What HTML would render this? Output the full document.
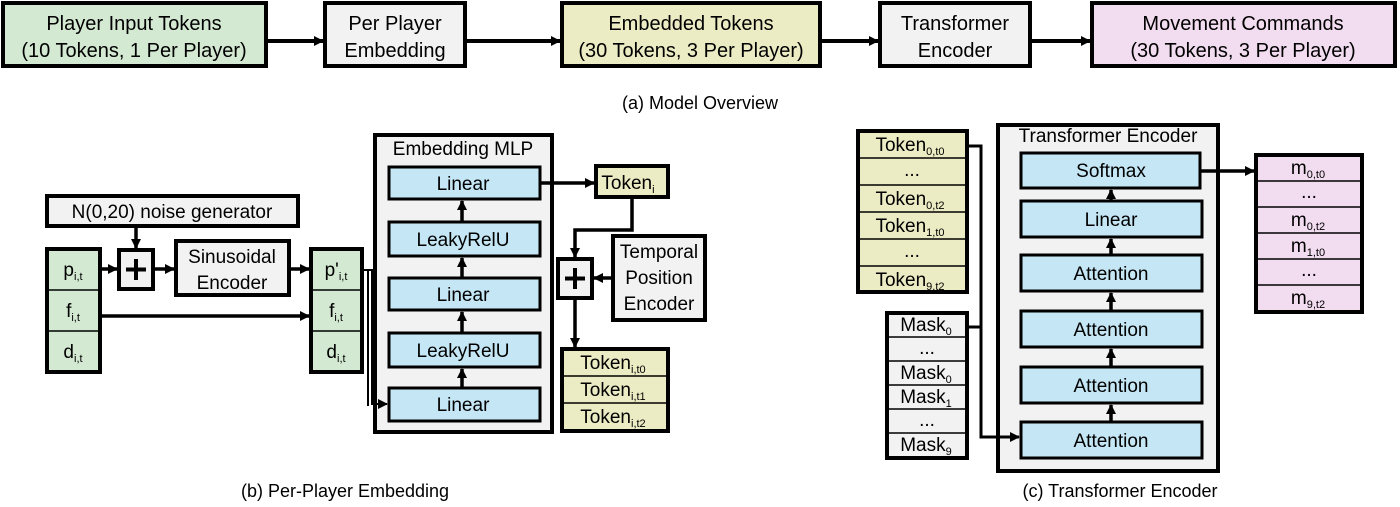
<!DOCTYPE html>
<html><head><meta charset="utf-8"><style>
body{margin:0;background:#fff}
svg text{font-family:"Liberation Sans",sans-serif;fill:#000}
</style></head><body>
<svg width="1400" height="502" viewBox="0 0 1400 502" xmlns="http://www.w3.org/2000/svg">
<defs>
<marker id="a" markerWidth="10" markerHeight="10" refX="9" refY="5" orient="auto" markerUnits="userSpaceOnUse"><path d="M0,0 L10,5 L0,10 z" fill="#000"/></marker>
</defs>
<g stroke="#000" stroke-width="4">
<rect x="3" y="3" width="263" height="63" fill="#d3e9d2"/>
<rect x="325" y="3" width="140" height="63" fill="#f2f2f2"/>
<rect x="562" y="3" width="258" height="63" fill="#ececc4"/>
<rect x="880" y="3" width="150" height="63" fill="#f2f2f2"/>
<rect x="1092" y="3" width="303" height="63" fill="#f2dcf0"/>
</g>
<g stroke="#000" stroke-width="4" marker-end="url(#a)">
<line x1="266" y1="41" x2="323" y2="41"/>
<line x1="465" y1="41" x2="560" y2="41"/>
<line x1="820" y1="41" x2="878" y2="41"/>
<line x1="1030" y1="41" x2="1090" y2="41"/>
</g>
<g font-size="20" text-anchor="middle">
<text x="134" y="30">Player Input Tokens</text><text x="134" y="57">(10 Tokens, 1 Per Player)</text>
<text x="395" y="30">Per Player</text><text x="395" y="57">Embedding</text>
<text x="691" y="30">Embedded Tokens</text><text x="691" y="57">(30 Tokens, 3 Per Player)</text>
<text x="955" y="30">Transformer</text><text x="955" y="57">Encoder</text>
<text x="1243" y="30">Movement Commands</text><text x="1243" y="57">(30 Tokens, 3 Per Player)</text>
<text x="700" y="109" font-size="18">(a) Model Overview</text>
<text x="345" y="497" font-size="18">(b) Per-Player Embedding</text>
<text x="1120" y="497" font-size="18">(c) Transformer Encoder</text>
</g>

<!-- Part b -->
<g stroke="#000" stroke-width="4">
<rect x="47" y="196" width="251" height="30" fill="#f2f2f2"/>
<rect x="47" y="249" width="53" height="123" fill="#d3e9d2"/>
<rect x="119" y="250" width="34" height="39" fill="#f2f2f2"/>
<rect x="176" y="241" width="113" height="54" fill="#f2f2f2"/>
<rect x="311" y="249" width="51" height="123" fill="#d3e9d2"/>
<rect x="375" y="135" width="177" height="297" fill="#f2f2f2"/>
<rect x="596" y="166" width="72" height="31" fill="#ececc4"/>
<rect x="558" y="259" width="34" height="39" fill="#f2f2f2"/>
<rect x="613" y="236" width="92" height="84" fill="#f2f2f2"/>
<rect x="562" y="349" width="106" height="82" fill="#ececc4"/>
</g>
<g stroke="#000" stroke-width="3" fill="#c5e6f5">
<rect x="389" y="167" width="151" height="32"/>
<rect x="389" y="222" width="151" height="34"/>
<rect x="389" y="278" width="151" height="32"/>
<rect x="389" y="333" width="151" height="34"/>
<rect x="389" y="388" width="151" height="33"/>
</g>
<g stroke="#000" stroke-width="1.5">
<line x1="47" y1="290" x2="100" y2="290"/><line x1="47" y1="331" x2="100" y2="331"/>
<line x1="311" y1="290" x2="362" y2="290"/><line x1="311" y1="331" x2="362" y2="331"/>
<line x1="562" y1="376" x2="668" y2="376"/><line x1="562" y1="403" x2="668" y2="403"/>
</g>
<g stroke="#000" stroke-width="3.5" fill="none" marker-end="url(#a)">
<line x1="136" y1="226" x2="136" y2="248"/>
<line x1="100" y1="269" x2="117" y2="269"/>
<line x1="153" y1="269" x2="174" y2="269"/>
<line x1="289" y1="269" x2="309" y2="269"/>
<line x1="100" y1="316" x2="309" y2="316"/>
<line x1="462" y1="222" x2="462" y2="201"/>
<line x1="462" y1="278" x2="462" y2="258"/>
<line x1="462" y1="333" x2="462" y2="312"/>
<line x1="462" y1="388" x2="462" y2="369"/>
<line x1="540" y1="183" x2="594" y2="183"/>
<polyline points="632,197 632,230 575,230 575,257"/>
<line x1="613" y1="278" x2="594" y2="278"/>
<line x1="575" y1="298" x2="575" y2="347"/>
</g>
<g stroke="#000" stroke-width="2" fill="none">
<polyline points="362,270 368,270 368,406"/>
<polyline points="365,270 372,270 372,404 387,404" marker-end="url(#a)"/>
</g>
<g stroke="#000" stroke-width="4">
<line x1="136" y1="259" x2="136" y2="280"/><line x1="126" y1="269.5" x2="146" y2="269.5"/>
<line x1="575" y1="268" x2="575" y2="289"/><line x1="565" y1="278.5" x2="585" y2="278.5"/>
</g>
<g font-size="19" text-anchor="middle">
<text x="172" y="218">N(0,20) noise generator</text>
<text x="232" y="263">Sinusoidal</text><text x="232" y="289">Encoder</text>
<text x="463" y="155">Embedding MLP</text>
<text x="463" y="190">Linear</text><text x="463" y="246">LeakyRelU</text><text x="463" y="301">Linear</text><text x="463" y="357">LeakyRelU</text><text x="463" y="411">Linear</text>
<text x="659" y="258">Temporal</text><text x="659" y="284">Position</text><text x="659" y="310">Encoder</text>
<text x="628" y="189">Token<tspan font-size="11" dy="4">i</tspan></text>
<text x="73" y="276">p<tspan font-size="11" dy="4">i,t</tspan></text>
<text x="73" y="317">f<tspan font-size="11" dy="4">i,t</tspan></text>
<text x="73" y="358">d<tspan font-size="11" dy="4">i,t</tspan></text>
<text x="336" y="276">p'<tspan font-size="11" dy="4">i,t</tspan></text>
<text x="336" y="317">f<tspan font-size="11" dy="4">i,t</tspan></text>
<text x="336" y="358">d<tspan font-size="11" dy="4">i,t</tspan></text>
<text x="613" y="369">Token<tspan font-size="11" dy="4">i,t0</tspan></text>
<text x="613" y="396">Token<tspan font-size="11" dy="4">i,t1</tspan></text>
<text x="613" y="423">Token<tspan font-size="11" dy="4">i,t2</tspan></text>
</g>

<!-- Part c -->
<g stroke="#000" stroke-width="4">
<rect x="858" y="131" width="109" height="161" fill="#ececc4"/>
<rect x="887" y="313" width="80" height="145" fill="#f2f2f2"/>
<rect x="998" y="125" width="220" height="346" fill="#f2f2f2"/>
<rect x="1256" y="155" width="106" height="157" fill="#f2dcf0"/>
</g>
<g stroke="#000" stroke-width="1.5">
<line x1="858" y1="158" x2="967" y2="158"/><line x1="858" y1="185" x2="967" y2="185"/><line x1="858" y1="212" x2="967" y2="212"/><line x1="858" y1="239" x2="967" y2="239"/><line x1="858" y1="266" x2="967" y2="266"/>
<line x1="887" y1="337" x2="967" y2="337"/><line x1="887" y1="361" x2="967" y2="361"/><line x1="887" y1="385" x2="967" y2="385"/><line x1="887" y1="409" x2="967" y2="409"/><line x1="887" y1="433" x2="967" y2="433"/>
<line x1="1256" y1="181" x2="1362" y2="181"/><line x1="1256" y1="207" x2="1362" y2="207"/><line x1="1256" y1="233" x2="1362" y2="233"/><line x1="1256" y1="259" x2="1362" y2="259"/><line x1="1256" y1="285" x2="1362" y2="285"/>
</g>
<g stroke="#000" stroke-width="3" fill="#c5e6f5">
<rect x="1021" y="153" width="179" height="35"/>
<rect x="1021" y="201" width="181" height="36"/>
<rect x="1021" y="255" width="181" height="36"/>
<rect x="1021" y="311" width="181" height="36"/>
<rect x="1021" y="367" width="181" height="36"/>
<rect x="1021" y="422" width="181" height="36"/>
</g>
<g stroke="#000" stroke-width="3.5" fill="none" marker-end="url(#a)">
<polyline points="967,146 981,146 981,437 1019,437" stroke-width="3"/>
<line x1="1200" y1="171" x2="1254" y2="171"/>
<line x1="1111" y1="201" x2="1111" y2="190"/>
<line x1="1111" y1="255" x2="1111" y2="239"/>
<line x1="1111" y1="311" x2="1111" y2="293"/>
<line x1="1111" y1="367" x2="1111" y2="349"/>
<line x1="1111" y1="422" x2="1111" y2="405"/>
</g>
<line x1="967" y1="327" x2="981" y2="327" stroke="#000" stroke-width="3"/>
<g font-size="19" text-anchor="middle">
<text x="1108" y="142">Transformer Encoder</text>
<text x="1111" y="177">Softmax</text><text x="1111" y="226">Linear</text>
<text x="1111" y="280">Attention</text><text x="1111" y="336">Attention</text><text x="1111" y="392">Attention</text><text x="1111" y="447">Attention</text>
<text x="910" y="151">Token<tspan font-size="11" dy="4">0,t0</tspan></text>
<text x="912" y="176">...</text>
<text x="910" y="205">Token<tspan font-size="11" dy="4">0,t2</tspan></text>
<text x="910" y="232">Token<tspan font-size="11" dy="4">1,t0</tspan></text>
<text x="912" y="257">...</text>
<text x="910" y="286">Token<tspan font-size="11" dy="4">9,t2</tspan></text>
<text x="926" y="331">Mask<tspan font-size="11" dy="4">0</tspan></text>
<text x="927" y="354">...</text>
<text x="926" y="379">Mask<tspan font-size="11" dy="4">0</tspan></text>
<text x="926" y="403">Mask<tspan font-size="11" dy="4">1</tspan></text>
<text x="927" y="426">...</text>
<text x="926" y="451">Mask<tspan font-size="11" dy="4">9</tspan></text>
<text x="1308" y="174">m<tspan font-size="11" dy="4">0,t0</tspan></text>
<text x="1309" y="198">...</text>
<text x="1308" y="226">m<tspan font-size="11" dy="4">0,t2</tspan></text>
<text x="1308" y="252">m<tspan font-size="11" dy="4">1,t0</tspan></text>
<text x="1309" y="276">...</text>
<text x="1308" y="304">m<tspan font-size="11" dy="4">9,t2</tspan></text>
</g>
</svg>
</body></html>
